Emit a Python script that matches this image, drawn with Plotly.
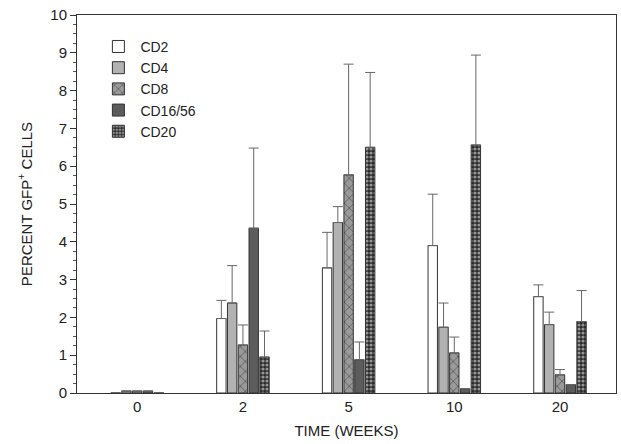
import plotly.graph_objects as go

weeks = ["0", "2", "5", "10", "20"]
series_names = ["CD2", "CD4", "CD8", "CD16/56", "CD20"]
cd2 = [0.0, 1.97, 3.31, 3.90, 2.55]
cd2_err = [0.0, 0.48, 0.94, 1.36, 0.31]
cd4 = [0.05, 2.38, 4.51, 1.74, 1.81]
cd4_err = [0.0, 0.99, 0.42, 0.64, 0.33]
cd8 = [0.05, 1.27, 5.77, 1.06, 0.48]
cd8_err = [0.0, 0.53, 2.93, 0.42, 0.14]
cd16 = [0.05, 4.36, 0.88, 0.11, 0.22]
cd16_err = [0.0, 2.12, 0.47, 0.0, 0.0]
cd20 = [0.0, 0.95, 6.50, 6.56, 1.89]
cd20_err = [0.0, 0.69, 1.98, 2.38, 0.82]

values = [cd2, cd4, cd8, cd16, cd20]
errors = [cd2_err, cd4_err, cd8_err, cd16_err, cd20_err]

styles = [
    dict(color="#ffffff"),
    dict(color="#b2b2b2"),
    dict(color="#9a9a9a", pattern=dict(shape="x", fgcolor="#2a2a2a", bgcolor="#9a9a9a", size=7, solidity=0.25)),
    dict(color="#5c5c5c"),
    dict(color="#333333", pattern=dict(shape=".", fgcolor="#ffffff", bgcolor="#2a2a2a", size=4, solidity=0.5)),
]

fig = go.Figure()
for name, v, e, st in zip(series_names, values, errors, styles):
    marker = dict(line=dict(color="#333333", width=1), **st)
    fig.add_trace(go.Bar(
        x=weeks, y=v, name=name, marker=marker,
        error_y=dict(type="data", array=e, arrayminus=[0]*len(e), symmetric=False,
                     color="#666666", thickness=1, width=5, visible=True),
    ))

font = "Liberation Sans, Arial, sans-serif"
fig.update_layout(
    width=621, height=444,
    margin=dict(l=77, r=5, t=15, b=51, autoexpand=False),
    paper_bgcolor="white", plot_bgcolor="white",
    barmode="group", bargap=0.49, bargroupgap=0.13,
    font=dict(family=font, size=13, color="#222222"),
    showlegend=True,
    legend=dict(x=0.036, y=0.958, xanchor="left", yanchor="top",
                bgcolor="rgba(0,0,0,0)", font=dict(size=14, family=font, color="#222222"),
                itemwidth=34, tracegroupgap=0),
    xaxis=dict(
        type="category", range=[-0.57, 4.53], automargin=False,
        showline=True, linecolor="#333333", linewidth=1, mirror=True,
        ticks="", showgrid=False, ticklabeloverflow="allow",
        tickfont=dict(size=15, family=font, color="#222222"),
        title=dict(text="TIME (WEEKS)", font=dict(size=15, family=font, color="#222222"), standoff=11),
    ),
    yaxis=dict(
        range=[0, 10], dtick=1, tick0=0, automargin=False,
        showline=True, linecolor="#333333", linewidth=1, mirror=True,
        ticks="outside", ticklen=6, tickcolor="#333333", ticklabeloverflow="allow",
        minor=dict(dtick=0.25, ticks="outside", ticklen=3, tickcolor="#555555", showgrid=False),
        showgrid=False, zeroline=False,
        tickfont=dict(size=15, family=font, color="#222222"),
        title=dict(text="PERCENT GFP<sup>+</sup> CELLS", font=dict(size=15, family=font, color="#222222"), standoff=14),
    ),
)

fig.write_html("out.html", config={"displayModeBar": False},
               post_script="document.body.style.margin='0';")
